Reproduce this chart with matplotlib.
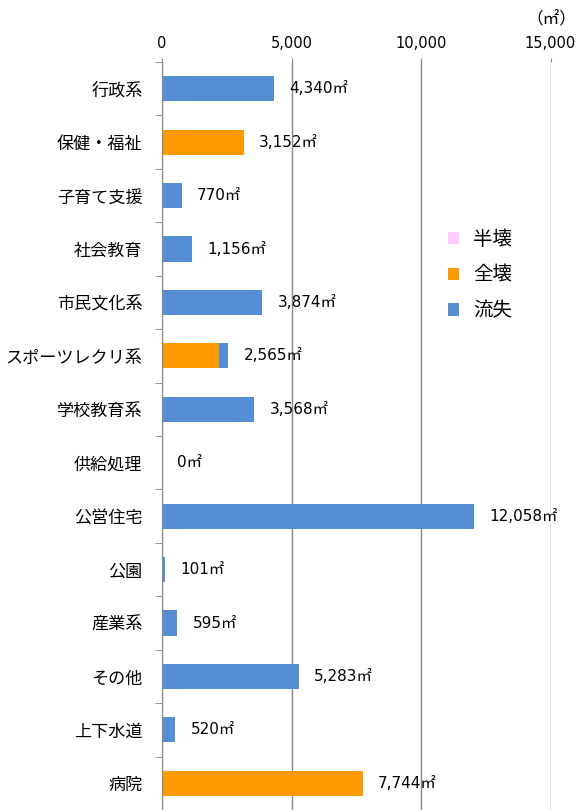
import matplotlib
matplotlib.use("Agg")
import matplotlib.pyplot as plt
import numpy as np

plt.rcParams['font.family'] = ['Noto Sans CJK JP', 'DejaVu Sans']
num_font = ['DejaVu Sans', 'Noto Sans CJK JP']

categories = ['行政系', '保健・福祉', '子育て支援', '社会教育', '市民文化系',
              'スポーツレクリ系', '学校教育系', '供給処理', '公営住宅', '公園',
              '産業系', 'その他', '上下水道', '病院']
hankai = [0, 0, 0, 0, 0, 0, 0, 0, 0, 0, 0, 0, 0, 0]
zenkai = [0, 3152, 0, 0, 0, 2215, 0, 0, 0, 0, 0, 0, 0, 7744]
ryushitsu = [4340, 0, 770, 1156, 3874, 350, 3568, 0, 12058, 101, 595, 5283, 520, 0]
totals = [4340, 3152, 770, 1156, 3874, 2565, 3568, 0, 12058, 101, 595, 5283, 520, 7744]

c_han = '#FFCCFF'
c_zen = '#FF9900'
c_ryu = '#558ED5'

fig = plt.figure(figsize=(5.79, 8.10), dpi=100)
ax = fig.add_axes([162 / 579, 0.0, 388.5 / 579, 1 - 62 / 810])

y = np.arange(len(categories))
h = 0.47
ax.barh(y, hankai, height=h, color=c_han, label='半壊')
ax.barh(y, zenkai, height=h, left=hankai, color=c_zen, label='全壊')
left2 = np.array(hankai) + np.array(zenkai)
ax.barh(y, ryushitsu, height=h, left=left2, color=c_ryu, label='流失')

for yi, t in zip(y, totals):
    ax.annotate(f'{t:,}㎡', xy=(t, yi), xytext=(11, 0), textcoords='offset points',
                va='center', ha='left', fontsize=11, family=num_font)

ax.set_xlim(0, 15000)
ax.set_ylim(len(categories) - 0.5, -0.5)
ax.set_xticks([0, 5000, 10000, 15000])
ax.set_xticklabels(['0', '5,000', '10,000', '15,000'], fontsize=10.5, family=num_font)
ax.xaxis.tick_top()
ax.tick_params(axis='x', length=3, color='#888888', pad=5)
ax.set_yticks(y)
ax.set_yticklabels(categories, fontsize=12.3)
ax.set_yticks(np.arange(len(categories) + 1) - 0.5, minor=True)
ax.tick_params(axis='y', which='major', length=0, pad=14)
ax.tick_params(axis='y', which='minor', length=5, color='#888888')
ax.grid(axis='x', color='#888888', linewidth=1)
ax.set_axisbelow(True)
for s in ['top', 'right', 'bottom']:
    ax.spines[s].set_visible(False)
ax.spines['left'].set_color('#888888')

ax.text(1.066, 1.056, '（㎡）', transform=ax.transAxes, ha='right', va='center', fontsize=12)

leg = ax.legend(loc='upper left', bbox_to_anchor=(0.69, 0.80), frameon=False,
                fontsize=14, handlelength=0.6, handleheight=0.6, labelspacing=0.75,
                handletextpad=0.7)

fig.savefig('out.png', dpi=100)
